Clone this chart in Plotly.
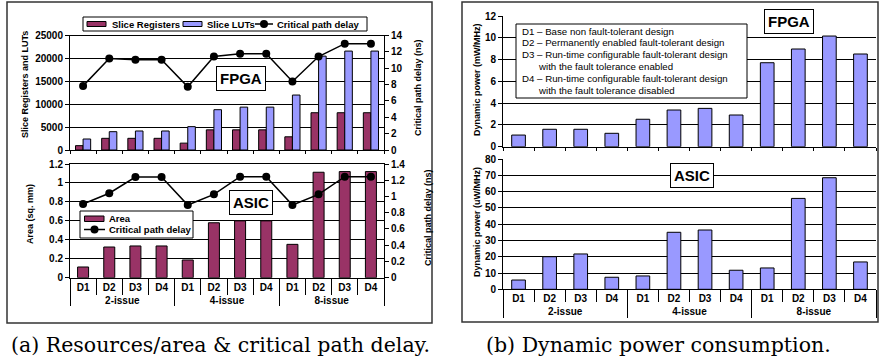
import plotly.graph_objects as go

W, H = 881, 362

# ---------------- data ----------------
groups = ["2-issue"] * 4 + ["4-issue"] * 4 + ["8-issue"] * 4
designs = ["D1", "D2", "D3", "D4"] * 3

slice_registers = [950, 2550, 2550, 2550, 1500, 4400, 4400, 4400, 2880, 8140, 8140, 8140]
slice_luts = [2400, 4000, 4150, 4150, 5100, 8800, 9360, 9360, 12000, 20500, 21600, 21600]
fpga_delay = [7.84, 11.2, 11.05, 11.05, 7.73, 11.43, 11.76, 11.76, 8.37, 11.43, 13.0, 13.0]

asic_area = [0.113, 0.324, 0.335, 0.335, 0.187, 0.58, 0.60, 0.60, 0.352, 1.113, 1.12, 1.12]
asic_delay = [0.907, 1.04, 1.24, 1.24, 0.895, 1.026, 1.244, 1.244, 0.895, 1.026, 1.244, 1.244]

fpga_power = [1.07, 1.6, 1.6, 1.23, 2.52, 3.37, 3.52, 2.91, 7.71, 8.97, 10.16, 8.51]
asic_power = [5.7, 20.0, 21.7, 7.4, 8.2, 35.0, 36.4, 11.7, 13.1, 55.8, 68.5, 16.8]

legend_a_top = ["Slice Registers", "Slice LUTs", "Critical path delay"]
legend_a_bot = ["Area", "Critical path delay"]
legend_b_text = [
    "D1 \u2013 Base non fault-tolerant design",
    "D2 \u2013 Permanently enabled fault-tolerant design",
    "D3 \u2013 Run-time configurable fault-tolerant design",
    "with the fault tolerance enabled",
    "D4 \u2013 Run-time configurable fault-tolerant design",
    "with the fault tolerance disabled",
]
legend_b_indent = [False, False, False, True, False, True]

# ---------------- styles ----------------
MAROON = "#993366"
PERI = "#9999FF"
SANS = "Liberation Sans"
SERIF = "DejaVu Serif"


def px(x):
    return x / W


def py(y):
    return 1 - y / H


xcat = [groups, designs]
xrange_ = [-0.5, len(designs) - 0.5]

fig = go.Figure()

bar_line = dict(color="black", width=1)

# Panel (a) top: FPGA resources + delay
fig.add_trace(go.Bar(x=xcat, y=slice_registers, name=legend_a_top[0],
                     marker=dict(color=MAROON, line=bar_line),
                     width=0.29, offset=-0.29, xaxis="x", yaxis="y"))
fig.add_trace(go.Bar(x=xcat, y=slice_luts, name=legend_a_top[1],
                     marker=dict(color=PERI, line=bar_line),
                     width=0.29, offset=0.0, xaxis="x", yaxis="y"))
fig.add_trace(go.Scatter(x=xcat, y=fpga_delay, name=legend_a_top[2],
                         mode="lines+markers", line=dict(color="black", width=1.5),
                         marker=dict(color="black", size=8),
                         xaxis="x", yaxis="y2"))

# Panel (a) bottom: ASIC area + delay
fig.add_trace(go.Bar(x=xcat, y=asic_area, name=legend_a_bot[0],
                     marker=dict(color=MAROON, line=bar_line),
                     width=0.42, xaxis="x2", yaxis="y3"))
fig.add_trace(go.Scatter(x=xcat, y=asic_delay, name=legend_a_bot[1],
                         mode="lines+markers", line=dict(color="black", width=1.5),
                         marker=dict(color="black", size=8),
                         xaxis="x2", yaxis="y4"))

# Panel (b)
fig.add_trace(go.Bar(x=xcat, y=fpga_power, name="FPGA power",
                     marker=dict(color=PERI, line=bar_line),
                     width=0.44, xaxis="x3", yaxis="y5"))
fig.add_trace(go.Bar(x=xcat, y=asic_power, name="ASIC power",
                     marker=dict(color=PERI, line=bar_line),
                     width=0.44, xaxis="x4", yaxis="y6"))

tickfont = dict(family=SANS, size=10, color="black", weight="bold")

ax_common = dict(showline=True, linecolor="black", linewidth=1, zeroline=False,
                 tickcolor="black", tickfont=tickfont, automargin=False)

xa_dom = [px(70), px(384)]
xb_dom = [px(503), px(876)]

x_top = dict(ax_common, type="multicategory", showticklabels=False, showdividers=False,
             ticks="outside", tickson="boundaries", ticklen=3, showgrid=False,
             range=xrange_, autorange=False)
x_bot = dict(ax_common, type="multicategory", showticklabels=True, showdividers=True,
             dividercolor="black", dividerwidth=1,
             ticks="outside", tickson="boundaries", ticklen=16, showgrid=False,
             range=xrange_, autorange=False)

y_left = dict(ax_common, ticks="outside", ticklen=4, showgrid=True,
              gridcolor="black", gridwidth=1, tickformat="d")
y_right = dict(ax_common, ticks="outside", ticklen=4, showgrid=False, side="right")

fig.update_layout(
    width=W, height=H,
    margin=dict(l=0, r=0, t=0, b=0),
    paper_bgcolor="white", plot_bgcolor="white",
    showlegend=False,
    xaxis=dict(x_top, domain=xa_dom, anchor="y", mirror=True),
    yaxis=dict(y_left, domain=[py(150), py(35.5)], range=[0, 25000], dtick=5000, anchor="x"),
    yaxis2=dict(y_right, overlaying="y", anchor="x", range=[0, 14], dtick=2),
    xaxis2=dict(x_bot, domain=xa_dom, anchor="y3", mirror=True),
    yaxis3=dict(y_left, domain=[py(277.7), py(164)], range=[0, 1.2], dtick=0.2,
                anchor="x2", tickformat=""),
    yaxis4=dict(y_right, overlaying="y3", anchor="x2", range=[0, 1.4], dtick=0.2),
    xaxis3=dict(x_top, domain=xb_dom, anchor="y5"),
    yaxis5=dict(y_left, domain=[py(146.7), py(16)], range=[0, 12], dtick=2, anchor="x3"),
    xaxis4=dict(x_bot, domain=xb_dom, anchor="y6", ticklen=12),
    yaxis6=dict(y_left, domain=[py(289.3), py(159)], range=[0, 80], dtick=10, anchor="x4"),
)

annotations = []
shapes = []


def text_at(text, x, y, size=9.5, bold=True, xanchor="left", family=SANS):
    annotations.append(dict(text=text, x=px(x), y=py(y), xref="paper", yref="paper",
                            showarrow=False, xanchor=xanchor, yanchor="middle",
                            font=dict(family=family, size=size, color="black",
                                      weight="bold" if bold else "normal")))


def rect(x0, y0, x1, y1, fill="white", color="black", width=1):
    shapes.append(dict(type="rect", xref="paper", yref="paper",
                       x0=px(x0), x1=px(x1), y0=py(y1), y1=py(y0),
                       fillcolor=fill, line=dict(color=color, width=width)))


def line_symbol(x0, x1, y):
    shapes.append(dict(type="line", xref="paper", yref="paper",
                       x0=px(x0), x1=px(x1), y0=py(y), y1=py(y),
                       line=dict(color="black", width=1.5)))
    cx = (x0 + x1) / 2
    shapes.append(dict(type="circle", xref="paper", yref="paper",
                       x0=px(cx - 4), x1=px(cx + 4), y0=py(y + 4), y1=py(y - 4),
                       fillcolor="black", line=dict(color="black", width=0)))


# legend (a) top
rect(83, 17, 367, 31)
rect(87, 21.5, 106, 26.5, fill=MAROON)
text_at(legend_a_top[0], 110, 24)
rect(183, 21.5, 202, 26.5, fill=PERI)
text_at(legend_a_top[1], 205, 24)
line_symbol(255, 273, 24)
text_at(legend_a_top[2], 275, 24)

# legend (a) bottom
rect(80, 211, 193, 238)
rect(84.5, 216, 104, 221.5, fill=MAROON)
text_at(legend_a_bot[0], 107, 219)
line_symbol(84, 105, 229.5)
text_at(legend_a_bot[1], 107, 229.5)

# legend (b)
rect(516, 24, 747, 98)
for i, (t, ind) in enumerate(zip(legend_b_text, legend_b_indent)):
    text_at(t, 536 if ind else 520, 31 + 11.8 * i, size=9.7, bold=False)


def label_box(text, cx, cy, size=15):
    annotations.append(dict(text=text, x=px(cx), y=py(cy), xref="paper", yref="paper",
                            showarrow=False, xanchor="center", yanchor="middle",
                            font=dict(family=SANS, size=size, color="black", weight="bold"),
                            bgcolor="white", bordercolor="black", borderwidth=1, borderpad=3))


label_box("FPGA", 240.5, 78.5)
label_box("ASIC", 251, 202.5)
label_box("FPGA", 789, 21.5)
label_box("ASIC", 691.5, 175.5)


def vtitle(text, cx, cy, size=9):
    annotations.append(dict(text=text, x=px(cx), y=py(cy), xref="paper", yref="paper",
                            showarrow=False, textangle=-90, xanchor="center", yanchor="middle",
                            font=dict(family=SANS, size=size, color="black", weight="bold")))


vtitle("Slice Registers and LUTs", 25, 85)
vtitle("Critical path delay (ns)", 418, 88)
vtitle("Area (sq. mm)", 30, 214)
vtitle("Critical path delay (ns)", 428, 218)
vtitle("Dynamic power (mW/MHz)", 477, 80)
vtitle("Dynamic power (uW/MHz)", 477, 222)

text_at("(a) Resources/area &amp; critical path delay.", 220, 345, size=20.5, bold=False,
        xanchor="center", family=SERIF)
text_at("(b) Dynamic power consumption.", 658, 345, size=20.5, bold=False,
        xanchor="center", family=SERIF)

# panel frames
rect(7, 2, 432, 323, fill="rgba(0,0,0,0)", color="#333333", width=1.5)
rect(462, 2, 878, 322, fill="rgba(0,0,0,0)", color="#333333", width=1.5)

fig.update_layout(annotations=annotations, shapes=shapes)

fig.write_html("out.html", config={"displayModeBar": False},
               post_script="document.body.style.margin='0px';document.body.style.padding='0px';")
